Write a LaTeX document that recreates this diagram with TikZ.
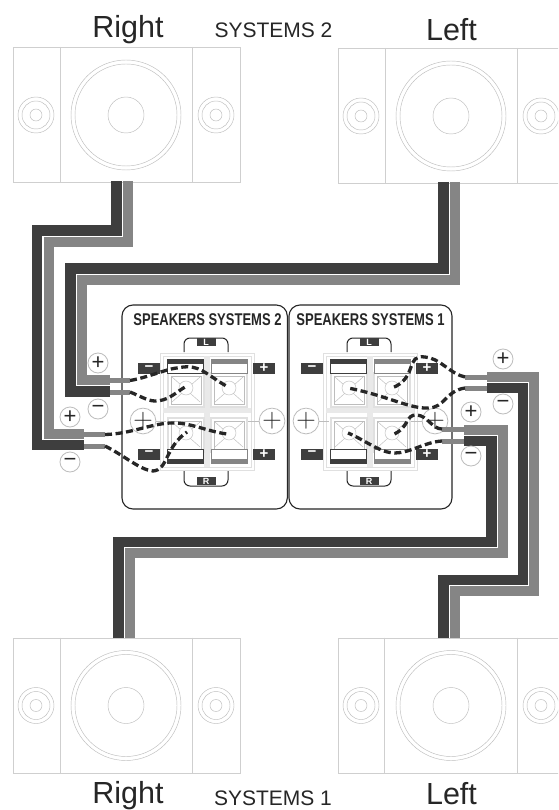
\documentclass[tikz,border=0pt]{standalone}
\usepackage{fontspec}
\setmainfont{Liberation Sans}
\newfontfamily\thinplus{Latin Modern Roman}
\definecolor{wdark}{HTML}{3E3E3E}
\definecolor{wgrey}{HTML}{858585}
\definecolor{ink}{HTML}{262626}
\definecolor{faint}{HTML}{BDBDBD}
\definecolor{boxline}{HTML}{CFCFCF}
\definecolor{pale}{HTML}{E0E0E0}
\tikzset{
  cabinet/.style={draw=boxline,line width=.5pt,fill=white,inner sep=0,minimum height=135.5pt,anchor=north west},
  ring/.style={circle,draw=faint,line width=.45pt,inner sep=0},
  wiredark/.style={draw=wdark,line width=10.4pt,miter limit=10},
  wiregrey/.style={draw=wgrey,line width=10pt,miter limit=10},
  lead/.style={draw=wgrey,line width=5pt},
  jumper/.style={draw=ink,line width=3.3pt,dash pattern=on 7pt off 3.6pt},
  sign/.style={circle,draw=faint,fill=white,line width=.8pt,minimum size=20pt,inner sep=0},
  panel/.style={draw=ink,line width=1.1pt,rounded corners=11pt,fill=white},
  tag/.style={fill=wdark,text=white,inner sep=0,font=\bfseries\fontsize{9}{9}\selectfont},
  headline/.style={text=ink,font=\fontsize{30.5}{30.5}\selectfont,anchor=base,inner sep=0},
  subline/.style={text=ink,font=\fontsize{21}{21}\selectfont,anchor=base,inner sep=0},
  paneltitle/.style={text=ink,font=\bfseries\fontsize{17}{17}\selectfont,xscale=.765,anchor=base,inner sep=0},
}
% speaker: name, left x, top y, width, d1, d2, big cx, s1 cx, s2 cx
\newcommand{\speakerbox}[9]{%
  \node[cabinet,minimum width=#4pt] (#1) at (#2,#3) {};
  \draw[boxline,line width=.5pt] (#5,#3) -- (#5,#3+135.5);
  \draw[boxline,line width=.5pt] (#6,#3) -- (#6,#3+135.5);
  \foreach \d in {110,102,36}{\node[ring,minimum size=\d pt] at (#7,#3+68) {};}
  \foreach \d in {36,28,12}{
    \node[ring,minimum size=\d pt] at (#8,#3+68) {};
    \node[ring,minimum size=\d pt] at (#9,#3+68) {};
  }
}
\newcommand{\cell}[2]{%
  \draw[pale,line width=1.2pt] (#1-18,#2-14) rectangle (#1+18,#2+20);
  \draw[faint,line width=.35pt] (#1-15,#2-11) rectangle (#1+15,#2+17);
  \draw[faint,line width=.45pt] (#1-14,#2-10) -- (#1+14,#2+15) (#1+14,#2-10) -- (#1-14,#2+15);
  \node[circle,draw=faint,fill=white,line width=.45pt,minimum size=14pt,inner sep=0] at (#1,#2+1) {};
}
% terminal block at horizontal offset
\newcommand{\terminals}[2]{%
  \begin{scope}[shift={(#1,0)}]
    \draw[pale,line width=1pt] (160,353) rectangle (254,470);
    \draw[pale,line width=.6pt] (163,356) rectangle (251,467);
    \fill[pale!70] (204,356) rectangle (210,467);
    \fill[pale!70] (163,408) rectangle (251,413);
    \draw[faint,line width=.5pt] (153,421) -- (166,421) (248,421) -- (263,421);
    \cell{186}{387}\cell{229}{387}\cell{186}{432}\cell{229}{432}
    % binding strips
    \fill[white] (167,359) rectangle (203,373); \draw[wdark,line width=.8pt] (167,359) rectangle (203,373); \fill[wdark] (167,359) rectangle (203,364);
    \fill[white] (211,359) rectangle (247,373); \draw[wgrey,line width=.8pt] (211,359) rectangle (247,373); \fill[wgrey] (211,359) rectangle (247,364);
    \fill[white] (167,449) rectangle (203,463); \draw[wdark,line width=.8pt] (167,449) rectangle (203,463); \fill[wdark] (167,459) rectangle (203,463);
    \fill[white] (211,449) rectangle (247,463); \draw[wgrey,line width=.8pt] (211,449) rectangle (247,463); \fill[wgrey] (211,459) rectangle (247,463);
    % polarity tags
    \node[tag,minimum width=22pt,minimum height=11pt] at (149,368.5) {\fontsize{15}{15}\selectfont −};
    \node[tag,minimum width=22pt,minimum height=11pt] at (149,454) {\fontsize{15}{15}\selectfont −};
    \node[tag,minimum width=22pt,minimum height=11pt] at (264,368.5) {\fontsize{15}{15}\selectfont +};
    \node[tag,minimum width=22pt,minimum height=11pt] at (264,454) {\fontsize{15}{15}\selectfont +};
    % brackets
    \draw[ink,line width=1pt,rounded corners=6pt] (184,352) -- (184,338) -- (228,338) -- (228,352);
    \draw[ink,line width=1pt,rounded corners=6pt] (184,471) -- (184,486) -- (228,486) -- (228,471);
    \node[tag,minimum width=19pt,minimum height=8pt] at (206,342) {L};
    \node[tag,minimum width=19pt,minimum height=8pt] at (206,481) {R};
    % large plus rings
    \node[sign] at (143,421) {\thinplus\fontsize{27}{27}\selectfont\color{ink}+};
    \node[sign] at (272,421) {\thinplus\fontsize{27}{27}\selectfont\color{ink}+};
    \node[paneltitle] at (207.5,325) {#2};
  \end{scope}
}
\begin{document}
\begin{tikzpicture}[x=1pt,y=-1pt]
\useasboundingbox (0,0) rectangle (558,810);
\clip (0,0) rectangle (558,810);
\fill[white] (0,0) rectangle (558,810);

% speakers
\speakerbox{spkTR}{13}{47}{227}{60}{192}{126}{36}{216}
\speakerbox{spkTL}{338}{48}{230}{385}{517}{451}{361}{541}
\speakerbox{spkBR}{13}{637.5}{227}{60}{192}{126}{36}{216}
\speakerbox{spkBL}{337.5}{637.5}{230}{384}{517}{451}{361}{541}

% panels
\draw[panel] (122,305) rectangle (287.3,509);
\draw[panel] (289,305) rectangle (452,509);
\terminals{0}{SPEAKERS SYSTEMS 2}
\terminals{163}{SPEAKERS SYSTEMS 1}

% named wire ends
\coordinate (a1) at (130,380.5);
\coordinate (a2) at (130,392);
\coordinate (b1) at (105,434.5);
\coordinate (b2) at (105,446);
\coordinate (c1) at (465,377);
\coordinate (c2) at (465,388);
\coordinate (d1) at (442,429);
\coordinate (d2) at (442,441);

% cables
\draw[wiredark] (443.5,182) -- (443.5,268.5) -- (70.5,268.5) -- (70.5,391.5) -- (110,391.5);
\draw[wiregrey] (455,182) -- (455,279.5) -- (82,279.5) -- (82,380) -- (110,380);
\draw[wiredark] (116.5,181.5) -- (116.5,230.5) -- (37,230.5) -- (37,445) -- (84,445);
\draw[wiregrey] (128,181.5) -- (128,241.5) -- (48.5,241.5) -- (48.5,433.5) -- (84,433.5);
\draw[wiredark] (118.5,638) -- (118.5,542) -- (491.5,542) -- (491.5,441) -- (464,441);
\draw[wiregrey] (130,638) -- (130,553) -- (502.5,553) -- (502.5,429.5) -- (464,429.5);
\draw[wiredark] (443.5,638) -- (443.5,580) -- (523,580) -- (523,388) -- (487,388);
\draw[wiregrey] (455,638) -- (455,591) -- (534,591) -- (534,377) -- (487,377);

% bare leads
\draw[lead] (110,380.5) -- (a1);
\draw[lead] (110,392) -- (a2);
\draw[lead] (84,434.5) -- (b1);
\draw[lead] (84,446) -- (b2);
\draw[lead] (487,377) -- (c1);
\draw[lead] (487,388) -- (c2);
\draw[lead] (464,429) -- (d1);
\draw[lead] (464,441) -- (d2);

% jumpers
\draw[jumper] (a1) .. controls (150,377) and (165,369) .. (180,367.5) .. controls (200,364) and (205,374) .. (228,387);
\draw[jumper] (a2) .. controls (140,396) and (148,401) .. (155,401) .. controls (168,401) and (175,393) .. (185,387);
\draw[jumper] (b1) .. controls (130,434) and (150,424) .. (170,423) .. controls (190,422) and (205,431) .. (227,434);
\draw[jumper] (b2) .. controls (125,456) and (140,470) .. (153,471) .. controls (168,470) and (165,447) .. (187,432);
\draw[jumper] (c1) .. controls (450,374) and (440,358) .. (425,357) .. controls (405,354) and (418,378) .. (392,388);
\draw[jumper] (c2) .. controls (445,391) and (445,408) .. (428,408) .. controls (410,409) and (385,395) .. (348,388);
\draw[jumper] (d1) .. controls (432,429) and (428,416) .. (417,415) .. controls (405,414) and (410,428) .. (392,435);
\draw[jumper] (d2) .. controls (425,442) and (410,453) .. (395,453) .. controls (380,453) and (365,440) .. (348,433);

% polarity signs
\node[sign] (sA) at (98,363) {\fontsize{22}{22}\selectfont\color{ink}+};
\node[sign] (sB) at (98,409) {\fontsize{22}{22}\selectfont\color{ink}−};
\node[sign] (sC) at (70,417) {\fontsize{22}{22}\selectfont\color{ink}+};
\node[sign] (sD) at (70,462) {\fontsize{22}{22}\selectfont\color{ink}−};
\node[sign] (sE) at (503,359) {\fontsize{22}{22}\selectfont\color{ink}+};
\node[sign] (sF) at (503,404) {\fontsize{22}{22}\selectfont\color{ink}−};
\node[sign] (sG) at (471,412) {\fontsize{22}{22}\selectfont\color{ink}+};
\node[sign] (sH) at (471,456) {\fontsize{22}{22}\selectfont\color{ink}−};

% headings
\node[headline] (t1) at (128,38) {Right};
\node[subline] (t2) at (273.5,38) {SYSTEMS 2};
\node[headline] (t3) at (451.5,41) {Left};
\node[headline] (t4) at (128,803.5) {Right};
\node[subline] (t5) at (273,805) {SYSTEMS 1};
\node[headline] (t6) at (451.5,804) {Left};
\end{tikzpicture}
\end{document}
